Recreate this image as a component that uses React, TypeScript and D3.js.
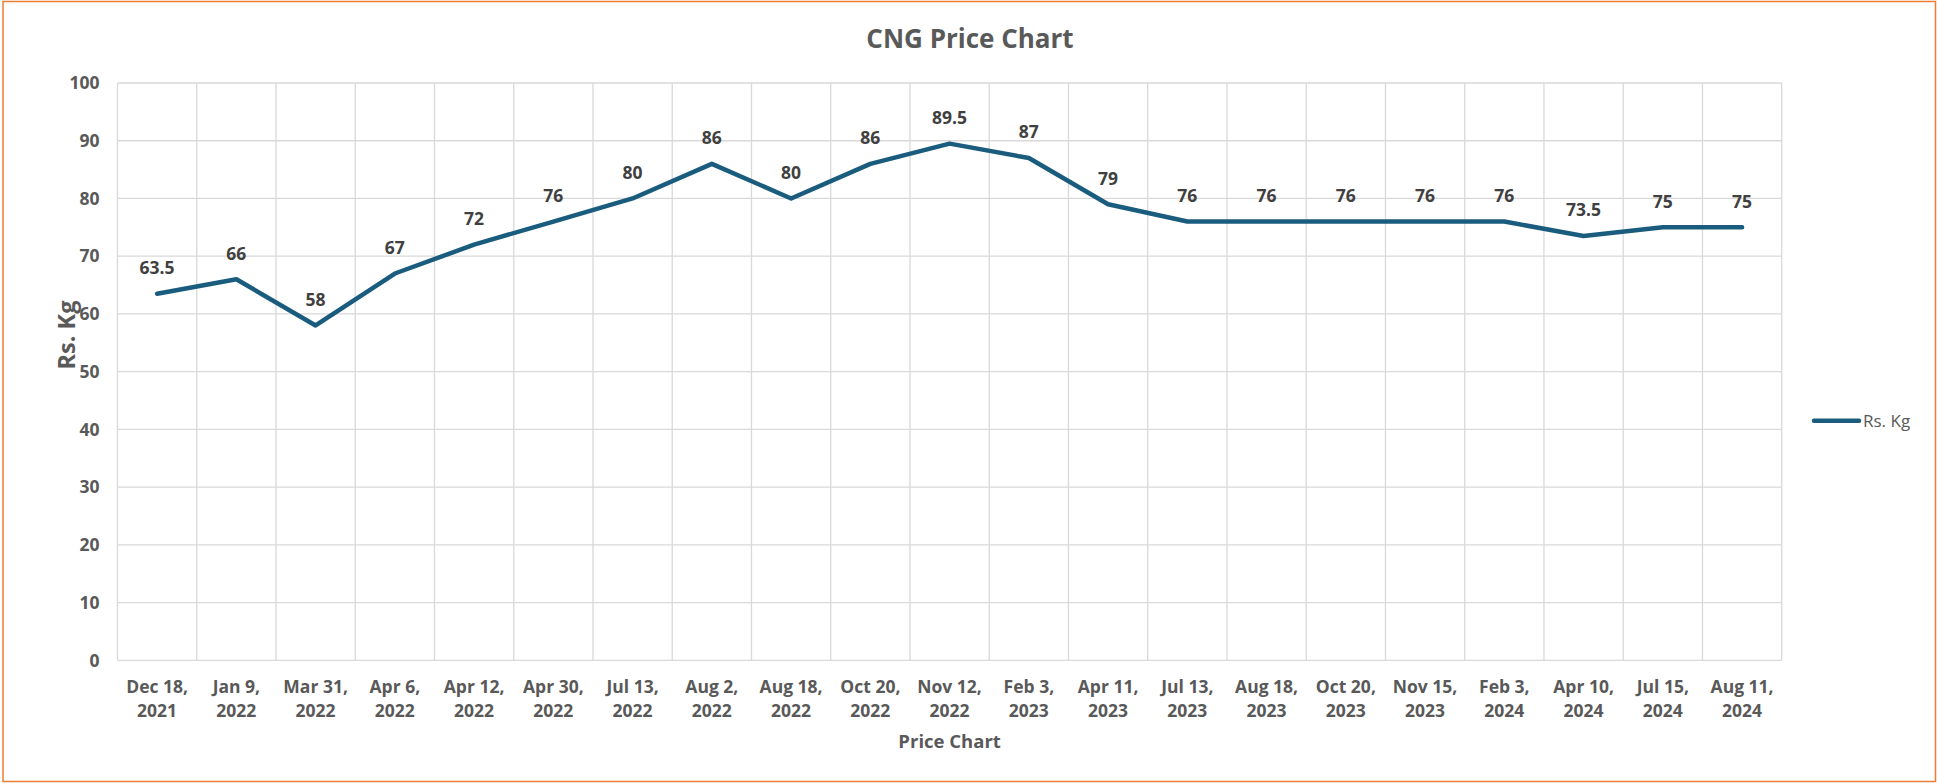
import React from 'react';
import * as d3 from 'd3';

// dates on the category axis (two lines each)
const dates = [
  'Dec 18, 2021', 'Jan 9, 2022', 'Mar 31, 2022', 'Apr 6, 2022', 'Apr 12, 2022',
  'Apr 30, 2022', 'Jul 13, 2022', 'Aug 2, 2022', 'Aug 18, 2022', 'Oct 20, 2022',
  'Nov 12, 2022', 'Feb 3, 2023', 'Apr 11, 2023', 'Jul 13, 2023', 'Aug 18, 2023',
  'Oct 20, 2023', 'Nov 15, 2023', 'Feb 3, 2024', 'Apr 10, 2024', 'Jul 15, 2024',
  'Aug 11, 2024',
];
const prices = [63.5, 66, 58, 67, 72, 76, 80, 86, 80, 86, 89.5, 87, 79, 76, 76, 76, 76, 76, 73.5, 75, 75];
const yTicks = [0, 10, 20, 30, 40, 50, 60, 70, 80, 90, 100];

const W = 1937;
const H = 783;
const margin = { top: 83, right: 155.3, bottom: 122.7, left: 117.5 };
const font = '"Open Sans", sans-serif';
const lineColor = '#1a5c7e';

const App = () => {
  const innerW = W - margin.left - margin.right;
  const innerH = H - margin.top - margin.bottom;

  const x = d3.scaleBand<number>().domain(dates.map((_, i) => i)).range([0, innerW]).padding(0);
  const y = d3.scaleLinear().domain([0, 100]).range([innerH, 0]);
  const cx = (i: number) => (x(i) as number) + x.bandwidth() / 2;

  const line = d3.line<number>()
    .x((_, i) => cx(i))
    .y(d => y(d));

  return (
    <svg width={W} height={H} style={{ position: 'absolute', left: 0, top: 0, background: '#fff' }}>
      <rect x={3} y={1.5} width={1932.5} height={780} fill="#fff" stroke="#ed7d31" strokeWidth={1.5} />

      <text x={970} y={48} textAnchor="middle" fontFamily={font} fontWeight={700} fontSize={26} fill="#595959">
        CNG Price Chart
      </text>

      <g transform={`translate(${margin.left},${margin.top})`}>
        {/* horizontal grid */}
        {yTicks.map(t => (
          <line key={'h' + t} x1={0} x2={innerW} y1={y(t)} y2={y(t)} stroke="#d9d9d9" strokeWidth={1.3} />
        ))}
        {/* vertical grid at category boundaries */}
        {d3.range(dates.length + 1).map(i => (
          <line key={'v' + i} x1={i * x.bandwidth()} x2={i * x.bandwidth()} y1={0} y2={innerH} stroke="#d9d9d9" strokeWidth={1.3} />
        ))}

        {/* y tick labels */}
        {yTicks.map(t => (
          <text key={'yl' + t} x={-18} y={y(t)} dy="0.36em" textAnchor="end" fontFamily={font} fontWeight={700} fontSize={17.5} fill="#595959">
            {t}
          </text>
        ))}

        {/* x tick labels */}
        {dates.map((d, i) => {
          const [md, yr] = d.split(', ');
          return (
            <text key={'xl' + i} x={cx(i)} textAnchor="middle" fontFamily={font} fontWeight={700} fontSize={17.5} fill="#595959">
              <tspan x={cx(i)} y={innerH + 33}>{md + ','}</tspan>
              <tspan x={cx(i)} y={innerH + 57}>{yr}</tspan>
            </text>
          );
        })}

        <path d={line(prices) ?? ''} fill="none" stroke={lineColor} strokeWidth={4.5} strokeLinejoin="round" strokeLinecap="round" />

        {/* data labels */}
        {prices.map((p, i) => (
          <text key={'dl' + i} x={cx(i)} y={y(p) - 26} dy="0.36em" textAnchor="middle" fontFamily={font} fontWeight={700} fontSize={17.5} fill="#404040">
            {p}
          </text>
        ))}

        <text x={innerW / 2} y={innerH + 88} textAnchor="middle" fontFamily={font} fontWeight={700} fontSize={18.5} fill="#595959">
          Price Chart
        </text>
      </g>

      <text transform="translate(67,335) rotate(-90)" dy="0.36em" textAnchor="middle" fontFamily={font} fontWeight={700} fontSize={23.5} fill="#595959">
        Rs. Kg
      </text>

      {/* legend */}
      <line x1={1814} x2={1859} y1={420.7} y2={420.7} stroke={lineColor} strokeWidth={4.5} strokeLinecap="round" />
      <text x={1863} y={420.7} dy="0.36em" fontFamily={font} fontSize={17} fill="#595959">
        Rs. Kg
      </text>
    </svg>
  );
};

export default App;
